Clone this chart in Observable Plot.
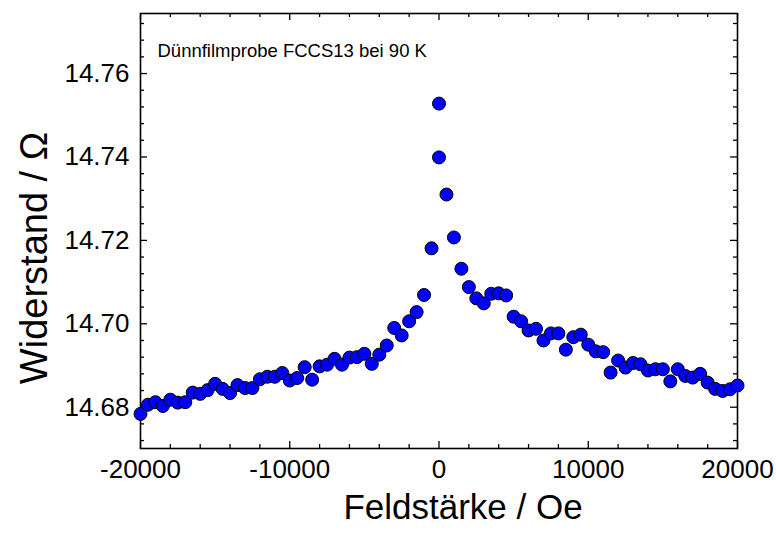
<!DOCTYPE html>
<html>
<head>
<meta charset="utf-8">
<script src="https://cdn.jsdelivr.net/npm/d3@7"></script>
<script src="https://cdn.jsdelivr.net/npm/@observablehq/plot@0.6"></script>
<style>
  html, body { margin: 0; padding: 0; background: #fff; }
</style>
</head>
<body>
<div id="chart"></div>
<script>
const fieldOe = [
  -20000, -19500, -19000, -18500, -18000, -17500, -17000, -16500, -16000, -15500,
  -15000, -14500, -14000, -13500, -13000, -12500, -12000, -11500, -11000, -10500,
  -10000, -9500, -9000, -8500, -8000, -7500, -7000, -6500, -6000, -5500,
  -5000, -4500, -4000, -3500, -3000, -2500, -2000, -1500, -1000, -500,
  0, 0, 500, 1000, 1500, 2000, 2500, 3000, 3500, 4000,
  4500, 5000, 5500, 6000, 6500, 7000, 7500, 8000, 8500, 9000,
  9500, 10000, 10500, 11000, 11500, 12000, 12500, 13000, 13500, 14000,
  14500, 15000, 15500, 16000, 16500, 17000, 17500, 18000, 18500, 19000,
  19500, 20000
];
const resistanceOhm = [
  14.6784, 14.6806, 14.6812, 14.6803, 14.6818, 14.6811, 14.6812, 14.6835, 14.6832, 14.6841,
  14.6856, 14.6844, 14.6834, 14.6853, 14.6846, 14.6846, 14.6867, 14.6873, 14.6873, 14.6882,
  14.6864, 14.6870, 14.6896, 14.6866, 14.6898, 14.6902, 14.6916, 14.6902, 14.6919, 14.6920,
  14.6928, 14.6904, 14.6926, 14.6948, 14.6990, 14.6972, 14.7006, 14.7028, 14.7069, 14.7181,
  14.7399, 14.7528, 14.7310, 14.7207, 14.7132, 14.7088, 14.7061, 14.7049, 14.7072, 14.7073,
  14.7068, 14.7017, 14.7006, 14.6984, 14.6988, 14.6960, 14.6977, 14.6977, 14.6938, 14.6968,
  14.6974, 14.6950, 14.6934, 14.6932, 14.6883, 14.6912, 14.6895, 14.6906, 14.6903, 14.6888,
  14.6891, 14.6891, 14.6862, 14.6891, 14.6875, 14.6871, 14.6880, 14.6859, 14.6844, 14.6839,
  14.6843, 14.6852
];
const xMajorTicks = [-20000, -10000, 0, 10000, 20000];
const xMinorTicks = [-18000, -16000, -14000, -12000, -8000, -6000, -4000, -2000,
                     2000, 4000, 6000, 8000, 12000, 14000, 16000, 18000];
const yMajorTicks = [14.68, 14.70, 14.72, 14.74, 14.76];
const yMinorTicks = [14.672, 14.676, 14.684, 14.688, 14.692, 14.696, 14.704, 14.708,
                     14.712, 14.716, 14.724, 14.728, 14.732, 14.736, 14.744, 14.748,
                     14.752, 14.756, 14.764, 14.768, 14.772];
const xTitle = "Feldstärke / Oe";
const yTitle = "Widerstand / Ω";
const annotation = "Dünnfilmprobe FCCS13 bei 90 K";

const data = fieldOe.map((f, i) => ({field: f, r: resistanceOhm[i]}));

const W = 776, H = 533;
const mL = 140, mR = 39, mT = 13, mB = 85;
const pw = W - mL - mR, ph = H - mT - mB;
const majLen = 7, minLen = 4;

const chart = Plot.plot({
  width: W,
  height: H,
  marginLeft: mL,
  marginRight: mR,
  marginTop: mT,
  marginBottom: mB,
  style: {fontFamily: "'Liberation Sans', Arial, Helvetica, sans-serif", background: "white", color: "black"},
  x: {domain: [-20000, 20000]},
  y: {domain: [14.6701, 14.7744]},
  marks: [
    Plot.tickX(xMajorTicks, {x: d => d, insetTop: ph - majLen, stroke: "black", strokeWidth: 1.3}),
    Plot.tickX(xMajorTicks, {x: d => d, insetBottom: ph - majLen, stroke: "black", strokeWidth: 1.3}),
    Plot.tickX(xMinorTicks, {x: d => d, insetTop: ph - minLen, stroke: "black", strokeWidth: 1.3}),
    Plot.tickX(xMinorTicks, {x: d => d, insetBottom: ph - minLen, stroke: "black", strokeWidth: 1.3}),
    Plot.tickY(yMajorTicks, {y: d => d, insetRight: pw - majLen, stroke: "black", strokeWidth: 1.3}),
    Plot.tickY(yMajorTicks, {y: d => d, insetLeft: pw - majLen, stroke: "black", strokeWidth: 1.3}),
    Plot.tickY(yMinorTicks, {y: d => d, insetRight: pw - minLen, stroke: "black", strokeWidth: 1.3}),
    Plot.tickY(yMinorTicks, {y: d => d, insetLeft: pw - minLen, stroke: "black", strokeWidth: 1.3}),
    Plot.frame({stroke: "black", strokeWidth: 1.6}),
    Plot.axisX(xMajorTicks, {anchor: "bottom", tickSize: 0, tickPadding: 11, fontSize: 26,
      tickFormat: d => String(d), label: null}),
    Plot.axisY(yMajorTicks, {anchor: "left", tickSize: 0, tickPadding: 11, fontSize: 26,
      tickFormat: d => d.toFixed(2), label: null}),
    Plot.dot(data, {x: "field", y: "r", r: 6.5, fill: "#0000ff", stroke: "black", strokeWidth: 1}),
    Plot.text([xTitle], {text: d => d, frameAnchor: "bottom", dx: 24, dy: 70, fontSize: 35, fill: "black"}),
    Plot.text([yTitle], {text: d => d, frameAnchor: "left", textAnchor: "middle", rotate: -90, dx: -106, dy: 27, fontSize: 38, fill: "black"}),
    Plot.text([annotation], {text: d => d, frameAnchor: "top-left", dx: 17, dy: 30, textAnchor: "start", fontSize: 18.5, fill: "black"})
  ]
});
document.getElementById("chart").appendChild(chart);
</script>
</body>
</html>
